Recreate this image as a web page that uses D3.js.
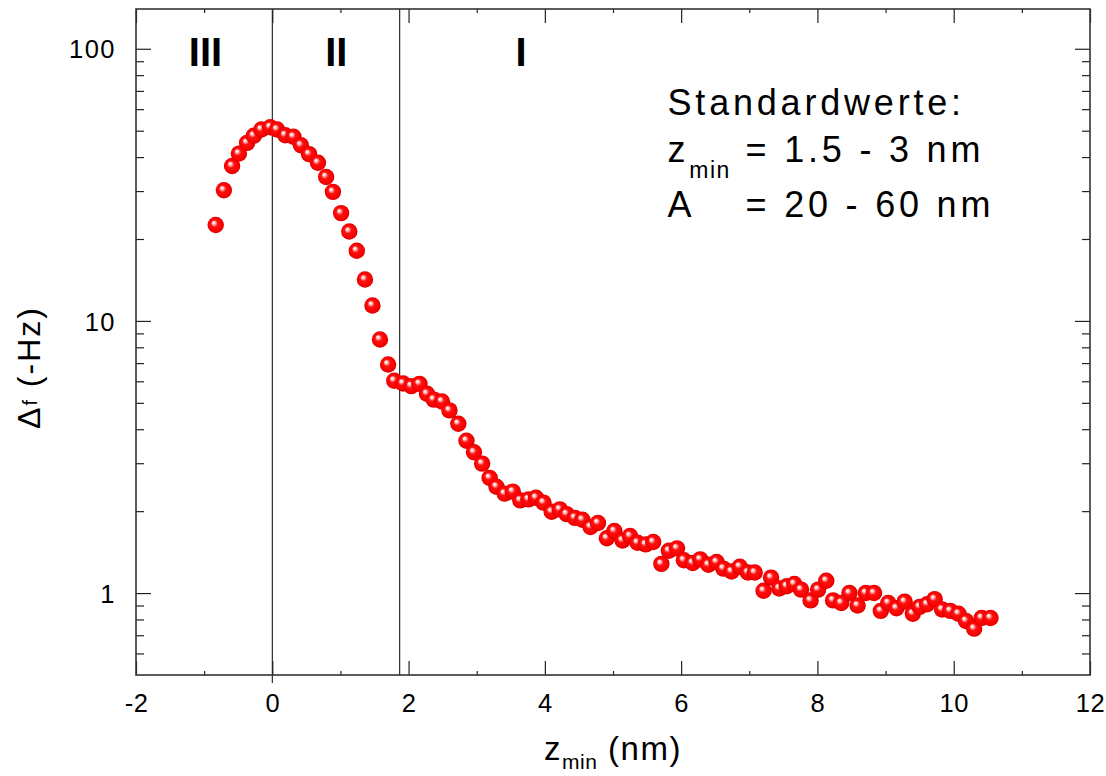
<!DOCTYPE html>
<html>
<head>
<meta charset="utf-8">
<script src="https://cdn.jsdelivr.net/npm/d3@7"></script>
<style>
  body { margin: 0; background: #fff; }
  svg text { font-family: "Liberation Sans", Arial, sans-serif; fill: #000; }
</style>
</head>
<body>
<svg id="chart"></svg>
<script>
// z_min (nm) for each measured point
const zValues = [
  -0.83, -0.71, -0.59, -0.49, -0.37, -0.27, -0.16, -0.03, 0.07, 0.19,
  0.31, 0.42, 0.54, 0.67, 0.79, 0.89, 1.01, 1.13, 1.24, 1.36,
  1.47, 1.58, 1.70, 1.79, 1.92, 2.04, 2.16, 2.27, 2.37, 2.49,
  2.60, 2.73, 2.85, 2.96, 3.08, 3.19, 3.29, 3.41, 3.53, 3.64,
  3.76, 3.87, 3.98, 4.10, 4.22, 4.32, 4.44, 4.55, 4.67, 4.78,
  4.91, 5.02, 5.14, 5.25, 5.36, 5.48, 5.59, 5.71, 5.82, 5.94,
  6.04, 6.17, 6.28, 6.40, 6.52, 6.62, 6.74, 6.86, 6.98, 7.08,
  7.21, 7.32, 7.44, 7.55, 7.66, 7.76, 7.90, 8.01, 8.13, 8.23,
  8.35, 8.47, 8.59, 8.71, 8.83, 8.93, 9.04, 9.16, 9.28, 9.40,
  9.50, 9.61, 9.72, 9.83, 9.95, 10.07, 10.18, 10.30, 10.41, 10.54
];

// frequency shift (-Hz)
const dfValues = [
  22.5, 30.2, 37.1, 41.2, 45.1, 47.9, 50.5, 51.5, 50.5, 48.1,
  47.5, 44.2, 41.0, 38.1, 33.8, 29.8, 24.9, 21.3, 18.1, 14.2,
  11.4, 8.55, 6.92, 6.03, 5.89, 5.76, 5.87, 5.40, 5.14, 5.06,
  4.69, 4.19, 3.63, 3.29, 2.99, 2.65, 2.46, 2.32, 2.36, 2.19,
  2.21, 2.24, 2.15, 1.99, 2.03, 1.95, 1.89, 1.86, 1.75, 1.81,
  1.59, 1.69, 1.56, 1.62, 1.53, 1.51, 1.54, 1.28, 1.43, 1.46,
  1.32, 1.29, 1.33, 1.27, 1.30, 1.23, 1.20, 1.25, 1.19, 1.19,
  1.02, 1.14, 1.04, 1.06, 1.08, 1.03, 0.94, 1.03, 1.11, 0.94,
  0.92, 1.00, 0.90, 1.00, 1.00, 0.86, 0.92, 0.88, 0.93, 0.84,
  0.89, 0.91, 0.95, 0.87, 0.86, 0.84, 0.79, 0.74, 0.81, 0.81
];

const boundaries = [0, 1.87];
const regionLabels = ['III', 'II', 'I'];
const regionLabelZ = [-0.98, 0.94, 3.65];

const xMajorTicks = [-2, 0, 2, 4, 6, 8, 10, 12];
const xMinorTicks = [-1, 1, 3, 5, 7, 9, 11];
const yMajorTicks = [1, 10, 100];
const yMinorTicks = [0.6, 0.7, 0.8, 0.9, 2, 3, 4, 5, 6, 7, 8, 9, 20, 30, 40, 50, 60, 70, 80, 90];

class ForceCurve {
  constructor(_config) {
    this.config = {
      parentElement: _config.parentElement,
      containerWidth: _config.containerWidth || 1106,
      containerHeight: _config.containerHeight || 776
    };
    this.config.margin = _config.margin || { top: 9, bottom: 101, right: 16, left: 136 };
    this.config.width = this.config.containerWidth - this.config.margin.left - this.config.margin.right;
    this.config.height = this.config.containerHeight - this.config.margin.top - this.config.margin.bottom;
    this.svg = d3.select(this.config.parentElement)
        .attr('width', this.config.containerWidth)
        .attr('height', this.config.containerHeight);
  }

  initVis() {
    let vis = this;

    vis.chart = vis.svg.append('g')
        .attr('transform', `translate(${vis.config.margin.left}, ${vis.config.margin.top})`);

    vis.xScale = d3.scaleLinear().domain([-2, 12]).range([0, vis.config.width]);
    vis.yScale = d3.scaleLog().domain([0.5, 140]).range([vis.config.height, 0]);

    vis.points = zValues.map((z, i) => ({ z: z, df: dfValues[i] }));

    // shiny sphere marker
    const grad = vis.svg.append('defs').append('radialGradient')
        .attr('id', 'ball')
        .attr('cx', '50%').attr('cy', '50%').attr('r', '50%')
        .attr('fx', '36%').attr('fy', '34%');
    grad.append('stop').attr('offset', '0%').attr('stop-color', '#ffffff');
    grad.append('stop').attr('offset', '16%').attr('stop-color', '#ffd0d0');
    grad.append('stop').attr('offset', '42%').attr('stop-color', '#ff1010');
    grad.append('stop').attr('offset', '85%').attr('stop-color', '#f80000');
    grad.append('stop').attr('offset', '100%').attr('stop-color', '#d40000');

    vis.render();
  }

  render() {
    let vis = this;
    const w = vis.config.width, h = vis.config.height;

    // region boundaries
    vis.chart.selectAll('.boundary')
        .data(boundaries)
        .enter().append('line')
        .attr('class', 'boundary')
        .attr('x1', d => vis.xScale(d))
        .attr('x2', d => vis.xScale(d))
        .attr('y1', 0)
        .attr('y2', (d, i) => i === 0 ? h + 8 : h)
        .attr('stroke', '#000')
        .attr('stroke-width', 1);

    // axes, ticks pointing inwards
    const plain = d => String(d);
    const xAxis = d3.axisBottom(vis.xScale).tickValues(xMajorTicks)
        .tickSize(-14).tickPadding(19).tickFormat(plain);
    const xAxisTop = d3.axisTop(vis.xScale).tickValues(xMajorTicks)
        .tickSize(-14).tickFormat('');
    const xMinorB = d3.axisBottom(vis.xScale).tickValues(xMinorTicks).tickSize(-4).tickFormat('');
    const xMinorT = d3.axisTop(vis.xScale).tickValues(xMinorTicks).tickSize(-4).tickFormat('');

    const yAxis = d3.axisLeft(vis.yScale).tickValues(yMajorTicks)
        .tickSize(-15).tickPadding(20).tickFormat(plain);
    const yAxisRight = d3.axisRight(vis.yScale).tickValues(yMajorTicks).tickSize(-15).tickFormat('');
    const yMinorL = d3.axisLeft(vis.yScale).tickValues(yMinorTicks).tickSize(-8).tickFormat('');
    const yMinorR = d3.axisRight(vis.yScale).tickValues(yMinorTicks).tickSize(-8).tickFormat('');

    const addAxis = (axis, tx, ty) => {
      const g = vis.chart.append('g')
          .attr('transform', `translate(${tx}, ${ty})`)
          .call(axis);
      g.select('.domain').remove();
      g.selectAll('.tick line').attr('stroke', '#222').attr('stroke-width', 1.2);
      return g;
    };

    const xg = addAxis(xAxis, 0, h);
    xg.selectAll('text').attr('font-size', 25.5).attr('letter-spacing', 0.5);
    addAxis(xAxisTop, 0, 0);
    addAxis(xMinorB, 0, h);
    addAxis(xMinorT, 0, 0);

    const yg = addAxis(yAxis, 0, 0);
    yg.selectAll('text').attr('font-size', 25.5).attr('letter-spacing', 1.5).attr('dy', '0.36em');
    addAxis(yAxisRight, w, 0);
    addAxis(yMinorL, 0, 0);
    addAxis(yMinorR, w, 0);

    // frame
    vis.chart.append('rect')
        .attr('width', w).attr('height', h)
        .attr('fill', 'none')
        .attr('stroke', '#333')
        .attr('stroke-width', 1.6);

    // data points
    vis.chart.append('g')
        .selectAll('circle')
        .data(vis.points)
        .enter().append('circle')
        .attr('cx', d => vis.xScale(d.z))
        .attr('cy', d => vis.yScale(d.df))
        .attr('r', 8.2)
        .attr('fill', 'url(#ball)');

    // region labels
    vis.chart.selectAll('.region')
        .data(regionLabels)
        .enter().append('text')
        .attr('class', 'region')
        .attr('x', (d, i) => vis.xScale(regionLabelZ[i]))
        .attr('y', 56.5)
        .attr('text-anchor', 'middle')
        .attr('font-size', 40)
        .attr('font-weight', 'bold')
        .text(d => d);

    // parameter note
    const note = vis.chart.append('g')
        .attr('transform', `translate(${vis.xScale(5.8)}, 0)`)
        .attr('font-size', 36)
        .attr('letter-spacing', 3.8);
    note.append('text').attr('x', 0).attr('y', 106).text('Standardwerte:');
    const zl = note.append('text').attr('x', 0).attr('y', 153);
    zl.append('tspan').text('z');
    zl.append('tspan').attr('font-size', 23).attr('dy', 16).attr('letter-spacing', 1.5).text('min');
    note.append('text').attr('x', 78).attr('y', 153).text('= 1.5 - 3 nm');
    note.append('text').attr('x', 0).attr('y', 208).text('A');
    note.append('text').attr('x', 78).attr('y', 208).text('= 20 - 60 nm');

    // axis titles
    const xt = vis.svg.append('text')
        .attr('x', vis.config.margin.left + w / 2)
        .attr('y', 760)
        .attr('text-anchor', 'middle')
        .attr('font-size', 33)
        .attr('letter-spacing', 1.5);
    xt.append('tspan').text('z');
    xt.append('tspan').attr('font-size', 21).attr('dy', 9).attr('letter-spacing', 0.5).text('min');
    xt.append('tspan').attr('dy', -9).text(' (nm)');

    const yt = vis.svg.append('text')
        .attr('transform', 'translate(40, 367.5) rotate(-90)')
        .attr('text-anchor', 'middle')
        .attr('font-size', 32)
        .attr('letter-spacing', 2);
    yt.append('tspan').text('Δ');
    yt.append('tspan').attr('font-size', 20).attr('dy', -3).text('f');
    yt.append('tspan').attr('dy', 3).text(' (-Hz)');
  }
}

const forceCurve = new ForceCurve({ parentElement: '#chart' });
forceCurve.initVis();
</script>
</body>
</html>
